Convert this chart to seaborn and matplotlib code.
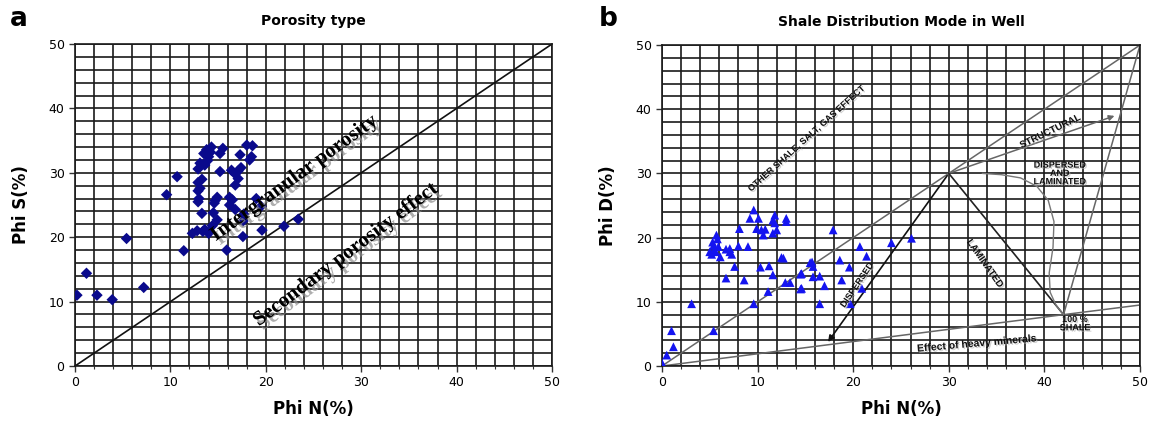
import numpy as np
import pandas as pd
import matplotlib
matplotlib.use("Agg")
import matplotlib.pyplot as plt
import matplotlib.patheffects as pe
import seaborn as sns

# ---------------- data ----------------
# Panel a: Phi N vs Phi S
phiN_a = [0.2, 1.2, 2.3, 3.9, 7.2, 5.4, 9.6, 10.7, 11.4, 12.3, 15.9, 17.6, 19.6, 21.9, 23.4,
          19.0, 18.0, 18.6, 18.5, 18.3, 17.3, 13.8, 13.5, 14.2, 15.2, 13.1, 12.9, 13.9, 13.6,
          15.2, 16.4, 17.1, 17.4, 17.1, 16.8, 12.9, 13.1, 12.9, 14.9, 14.7, 16.2, 16.5, 14.6,
          12.9, 16.2, 16.8, 13.3, 14.5, 14.9, 13.6, 13.4, 12.8, 14.0, 17.6, 19.5, 14.0, 14.3,
          15.5, 16.8, 13.3, 13.0, 17.7, 14.4]
phiS_a = [11.0, 14.4, 11.0, 10.3, 12.2, 19.8, 26.6, 29.4, 17.9, 20.6, 18.0, 20.1, 21.1, 21.7, 22.8,
          26.0, 34.3, 34.2, 32.5, 32.0, 32.8, 33.6, 33.0, 33.2, 33.0, 31.5, 30.6, 31.9, 31.2,
          30.2, 30.4, 30.3, 30.8, 29.1, 28.1, 28.5, 27.6, 27.2, 26.2, 25.7, 26.2, 25.8, 25.3,
          25.5, 25.0, 24.3, 23.7, 23.8, 22.7, 21.2, 20.9, 21.0, 20.6, 22.5, 24.8, 32.5, 34.0,
          33.8, 29.8, 29.0, 26.0, 23.6, 21.8]

# Panel b: Phi N vs Phi D
phiN_b = [0.0, 0.5, 1.2, 1.0, 3.1, 5.4, 9.6, 11.1, 12.9, 13.4, 14.5, 14.5, 16.5, 17.0, 15.8, 16.5,
          15.5, 15.7, 15.8, 17.9, 18.6, 18.8, 19.6, 19.7, 20.7, 21.4, 20.9, 24.0, 26.1, 14.6, 14.6,
          5.7, 5.8, 5.4, 5.5, 5.2, 5.6, 6.1, 5.9, 6.7, 7.1, 7.1, 7.3, 8.0, 9.0, 7.6, 6.7, 8.6, 8.1,
          9.6, 9.2, 10.1, 9.9, 10.4, 10.6, 10.8, 11.8, 11.6, 11.8, 12.0, 11.6, 13.0, 13.0, 12.5,
          12.7, 10.3, 11.2, 11.6, 5.3, 5.0]
phiD_b = [0.5, 1.7, 3.0, 5.5, 9.7, 5.5, 9.7, 11.6, 13.0, 13.0, 12.0, 14.3, 9.7, 12.5, 13.9, 14.0,
          16.1, 16.2, 15.5, 21.2, 16.5, 13.4, 15.4, 9.7, 18.6, 17.1, 12.1, 19.2, 19.9, 14.4, 12.1,
          20.4, 19.8, 18.8, 18.1, 17.4, 17.8, 17.0, 18.6, 18.2, 18.3, 17.8, 17.4, 18.7, 18.6, 15.5,
          13.7, 13.4, 21.4, 24.3, 23.0, 23.0, 21.4, 21.2, 20.4, 21.3, 23.5, 22.7, 22.3, 21.2, 20.7,
          23.0, 22.5, 16.9, 16.8, 15.4, 15.6, 14.2, 19.3, 17.8]

# reference lines (chart templates)
diag_x = [0, 50]
diag_y = [0, 50]
heavy_x = [0, 42, 50]
heavy_y = [0, 8.0, 9.5]
lam_x = [30, 42]
lam_y = [30, 8.0]
shale_top_x = [42, 50]
shale_top_y = [8.0, 50]
disp_start = (30, 30)
disp_end = (17.2, 3.4)
struct_end = (47.6, 39.1)
curve_x = [33.5, 35.5, 37.5, 39.2, 40.4, 41.0, 40.9, 40.5, 40.6, 41.2, 42.0]
curve_y = [30.0, 29.8, 29.3, 28.0, 25.8, 22.5, 18.5, 14.5, 11.5, 9.5, 8.0]

ticks_major = [0, 10, 20, 30, 40, 50]

# ---------------- figure ----------------
sns.set_style("white")
plt.rcParams['font.family'] = ['DejaVu Sans']
plt.rcParams['text.color'] = 'black'
plt.rcParams['axes.labelcolor'] = 'black'
plt.rcParams['xtick.color'] = 'black'
plt.rcParams['ytick.color'] = 'black'

fig = plt.figure(figsize=(11.49, 4.25), dpi=100)
axA = fig.add_axes([0.0653, 0.1388, 0.4151, 0.7576])
axB = fig.add_axes([0.5761, 0.1388, 0.4161, 0.7553])


def style_axes(ax, ylabel, title):
    ax.set_xlim(0, 50)
    ax.set_ylim(0, 50)
    ax.set_xticks(ticks_major)
    ax.set_yticks(ticks_major)
    ax.set_xticks(np.arange(0, 51, 2), minor=True)
    ax.set_yticks(np.arange(0, 51, 2), minor=True)
    ax.grid(which='both', color='#1a1a1a', lw=1.2)
    ax.set_axisbelow(True)
    ax.tick_params(which='major', direction='out', length=4, width=1, labelsize=9,
                   bottom=True, left=True, color='#333333', labelcolor='black')
    ax.tick_params(which='minor', direction='out', length=2.5, width=0.8,
                   bottom=True, left=False, color='#333333')
    for s in ax.spines.values():
        s.set_color('#1a1a1a')
        s.set_linewidth(1.2)
    ax.set_xlabel('Phi N(%)', fontsize=12, fontweight='bold', color='black')
    ax.set_ylabel(ylabel, fontsize=12, fontweight='bold', color='black')
    ax.xaxis.set_label_coords(0.5, -0.105)
    ax.yaxis.set_label_coords(-0.095, 0.5)
    ax.set_title(title, fontsize=10, fontweight='bold', pad=14, color='black')


# ---------------- panel a ----------------
dfa = pd.DataFrame({'PhiN': phiN_a, 'PhiS': phiS_a})
sns.lineplot(x=diag_x, y=diag_y, ax=axA, color='#111111', lw=1.2, sort=False, estimator=None)
sns.scatterplot(data=dfa, x='PhiN', y='PhiS', ax=axA, marker='D', s=34,
                color='#0a0a8c', edgecolor='none', zorder=5)
style_axes(axA, 'Phi S(%)', 'Porosity type')

shadow = [pe.withSimplePatchShadow(offset=(3, -3), shadow_rgbFace='0.55', alpha=0.7)]
axA.text(23.0, 29.2, 'Intergranular porosity', rotation=36, rotation_mode='anchor',
         ha='center', va='center', fontsize=15, fontweight='bold', family='Liberation Serif',
         color='black', path_effects=shadow, zorder=6)
axA.text(28.4, 17.3, 'Secondary porosity effect', rotation=37, rotation_mode='anchor',
         ha='center', va='center', fontsize=15, fontweight='bold', family='Liberation Serif',
         color='black', path_effects=shadow, zorder=6)

# ---------------- panel b ----------------
dfb = pd.DataFrame({'PhiN': phiN_b, 'PhiD': phiD_b})
sns.lineplot(x=diag_x, y=diag_y, ax=axB, color='#666666', lw=1.1, sort=False, estimator=None)
sns.lineplot(x=heavy_x, y=heavy_y, ax=axB, color='#666666', lw=1.1, sort=False, estimator=None)
sns.lineplot(x=lam_x, y=lam_y, ax=axB, color='#222222', lw=1.2, sort=False, estimator=None)
sns.lineplot(x=shale_top_x, y=shale_top_y, ax=axB, color='#666666', lw=1.1, sort=False, estimator=None)
sns.lineplot(x=curve_x, y=curve_y, ax=axB, color='#777777', lw=1.0, sort=False, estimator=None)
axB.annotate('', xy=disp_end, xytext=disp_start,
             arrowprops=dict(arrowstyle='-|>', color='#111111', lw=1.2, mutation_scale=9))
axB.annotate('', xy=struct_end, xytext=disp_start,
             arrowprops=dict(arrowstyle='-|>', color='#666666', lw=1.1, mutation_scale=8))
sns.scatterplot(data=dfb, x='PhiN', y='PhiD', ax=axB, marker='^', s=40,
                color='#1414f0', edgecolor='none', zorder=5)
style_axes(axB, 'Phi D(%)', 'Shale Distribution Mode in Well')

small = dict(fontweight='bold', family='Liberation Sans', color='#111111', zorder=6,
             ha='center', va='center', rotation_mode='anchor',
             path_effects=[pe.withSimplePatchShadow(offset=(1, -1), shadow_rgbFace='0.7', alpha=0.6)])
axB.text(15.1, 35.4, 'OTHER SHALE, SALT, GAS EFFECT', rotation=42, fontsize=6.5, **small)
axB.text(40.6, 36.6, 'STRUCTURAL', rotation=26, fontsize=7, **small)
axB.text(41.6, 30.0, 'DISPERSED\nAND\nLAMINATED', rotation=0, fontsize=6.5,
         linespacing=0.9, **small)
axB.text(33.8, 16.0, 'LAMINATED', rotation=-55, fontsize=7, **small)
axB.text(20.4, 12.6, 'DISPERSED', rotation=56, fontsize=6.5, **small)
axB.text(43.2, 6.6, '100 %\nSHALE', rotation=0, fontsize=6.5, linespacing=0.9, **small)
axB.text(32.9, 3.5, 'Effect of heavy minerals', rotation=5, fontsize=7.5, **small)

# panel letters
fig.text(0.009, 0.955, 'a', fontsize=19, fontweight='bold', va='center', ha='left')
fig.text(0.521, 0.955, 'b', fontsize=19, fontweight='bold', va='center', ha='left')

fig.savefig('out.png', dpi=100)
